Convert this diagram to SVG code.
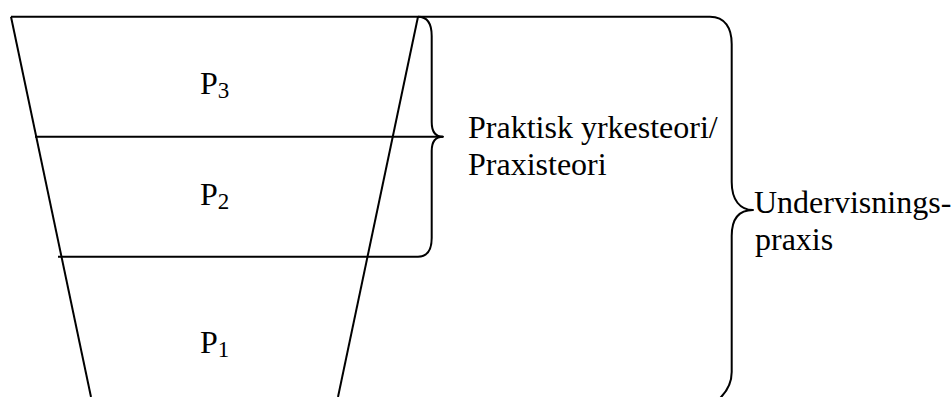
<svg xmlns="http://www.w3.org/2000/svg" width="952" height="397" viewBox="0 0 952 397">
<style>
.ln{fill:none;stroke:#000;stroke-width:2;stroke-linecap:butt;stroke-linejoin:round}
text{font-family:'Liberation Serif','Times New Roman',Times,serif;font-size:32px;fill:#000}
.sub{font-size:23px}
</style>
<rect width="952" height="397" fill="#fff"/>
<g id="connectors">
<path class="ln" d="M11,16.7 H710"/>
<path class="ln" d="M11,16.7 L91,397"/>
<path class="ln" d="M418,16.7 L338,397"/>
<path class="ln" d="M35,136.8 H443"/>
<path class="ln" d="M58,256.7 H418"/>
</g>
<g id="brace-small">
<path class="ln" d="M418,16.7 C428,16.7 431.7,24 431.7,36 V122 C431.7,132 436,136.8 443,136.8 C436,136.8 431.7,141 431.7,151 V238 C431.7,250 428,256.7 418,256.7"/>
</g>
<g id="brace-big">
<path class="ln" d="M710,16.7 C725,16.7 731.7,28 731.7,44 V182 C731.7,200 740,210 753,210 C740,210 731.7,218 731.7,236 V372 C731.7,385 726,393 718,400"/>
</g>
<g id="node-p3"><text x="200" y="94.3">P<tspan class="sub" dy="4">3</tspan></text></g>
<g id="node-p2"><text x="200" y="205">P<tspan class="sub" dy="4">2</tspan></text></g>
<g id="node-p1"><text x="200" y="353.3">P<tspan class="sub" dy="4">1</tspan></text></g>
<g id="label-praxisteori"><text x="468" y="138">Praktisk yrkesteori/</text><text x="468" y="174.8">Praxisteori</text></g>
<g id="label-undervisning"><text x="754" y="213.3" font-size="31.5">Undervisnings-</text><text x="755" y="250">praxis</text></g>
</svg>
